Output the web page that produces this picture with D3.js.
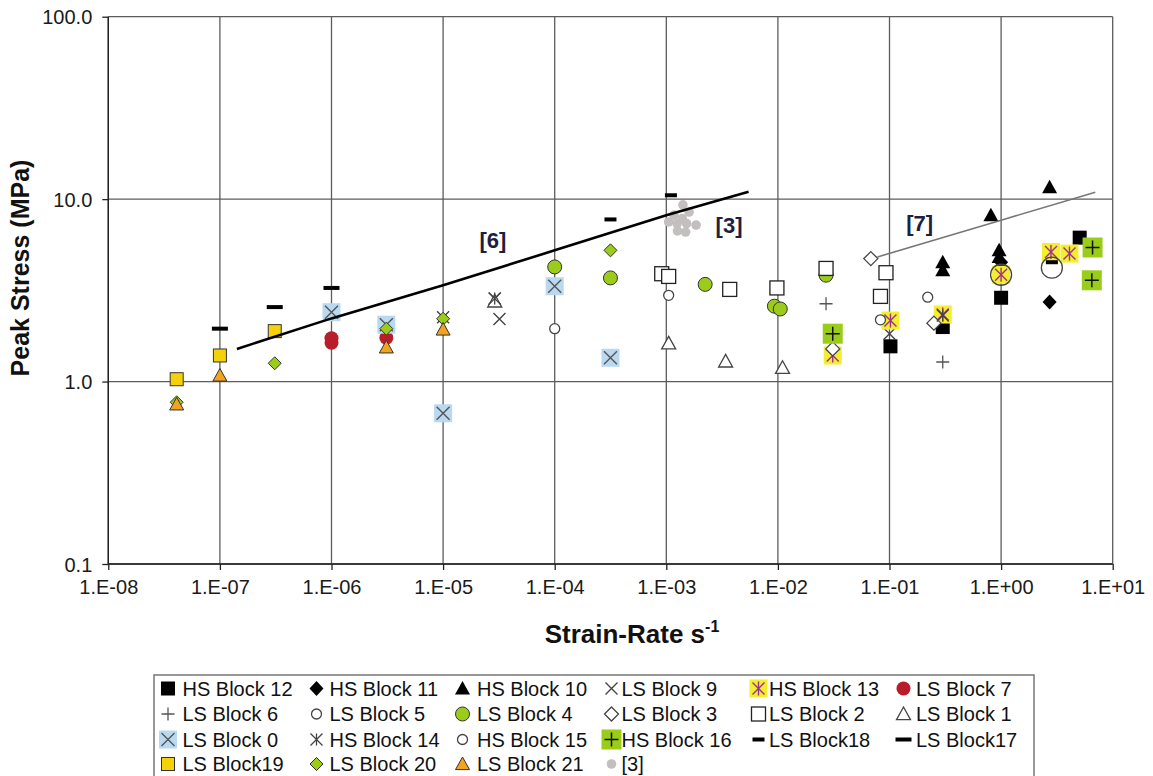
<!DOCTYPE html>
<html>
<head>
<meta charset="utf-8">
<script src="https://cdn.jsdelivr.net/npm/d3@7/dist/d3.min.js"></script>
<style>
  body { margin: 0; background: #fff; }
  svg { font-family: Arial, "Liberation Sans", sans-serif; }
</style>
</head>
<body>
<svg id="chart" width="1153" height="776"></svg>
<script>
// axis ticks
const xTicks = [1e-8, 1e-7, 1e-6, 1e-5, 1e-4, 1e-3, 1e-2, 1e-1, 1e0, 1e1];
const xTickLabels = ['1.E-08', '1.E-07', '1.E-06', '1.E-05', '1.E-04', '1.E-03', '1.E-02', '1.E-01', '1.E+00', '1.E+01'];
const yTicks = [0.1, 1, 10, 100];
const yTickLabels = ['0.1', '1.0', '10.0', '100.0'];

// series values: [strain rate (1/s), peak stress (MPa)]
const hsBlock12 = [[0.102, 1.56], [0.3, 1.99], [1.0, 2.88], [5.06, 6.15]];
const hsBlock11 = [[1.0, 4.51], [2.72, 2.73]];
const hsBlock10 = [[0.3, 4.51], [0.3, 4.07], [0.81, 8.15], [0.96, 5.24], [0.96, 4.82], [2.72, 11.6]];
const lsBlock9 = [[1e-5, 2.25], [3.2e-5, 2.2], [2.9e-5, 2.85], [0.1, 1.83]];
const hsBlock13 = [[3.1e-2, 1.39], [0.102, 2.16], [0.3, 2.33], [1.0, 3.85], [2.8, 5.13], [4.1, 5.03]];
const lsBlock7 = [[1e-6, 1.63], [1e-6, 1.73], [3.1e-6, 1.74]];
const lsBlock6 = [[2.7e-2, 2.67], [0.3, 1.28]];
const lsBlock5 = [[1e-4, 1.95], [1.05e-3, 2.97], [8.3e-2, 2.18], [0.22, 2.9]];
const lsBlock4 = [[1e-4, 4.25], [3.16e-4, 3.7], [2.23e-3, 3.41], [9.3e-3, 2.59], [1.05e-2, 2.5], [2.7e-2, 3.83]];
const lsBlock3 = [[3.1e-2, 1.51], [6.8e-2, 4.72], [0.25, 2.09]];
const lsBlock2 = [[9.1e-4, 3.9], [1.05e-3, 3.77], [3.7e-3, 3.2], [9.8e-3, 3.26], [2.7e-2, 4.17], [8.3e-2, 2.93], [9.3e-2, 3.95]];
const lsBlock1 = [[2.9e-5, 2.75], [1.05e-3, 1.62], [3.4e-3, 1.29], [1.1e-2, 1.19]];
const lsBlock0 = [[1e-6, 2.4], [3.1e-6, 2.05], [1e-5, 0.67], [1e-4, 3.33], [3.16e-4, 1.35]];
const hsBlock14 = [[2.9e-5, 2.85], [0.3, 2.3]];
const hsBlock15 = [[1.0, 3.85], [2.85, 4.21]];
const hsBlock16 = [[3.1e-2, 1.83], [6.6, 5.43], [6.5, 3.59]];
const lsBlock18 = [[3.16e-4, 7.74], [1.1e-3, 10.5], [2.85, 4.51]];
const lsBlock17 = [[1e-7, 1.95], [3.1e-7, 2.56], [1e-6, 3.26]];
const lsBlock19 = [[4.1e-8, 1.03], [1e-7, 1.39], [3.1e-7, 1.89]];
const lsBlock20 = [[4.1e-8, 0.77], [3.1e-7, 1.26], [3.1e-6, 1.95], [1e-5, 2.21], [3.16e-4, 5.24]];
const lsBlock21 = [[4.1e-8, 0.75], [1e-7, 1.08], [3.1e-6, 1.54], [1e-5, 1.93]];
const ref3 = [[1.41e-3, 9.3], [1.6e-3, 8.5], [1.17e-3, 8.17], [1.39e-3, 7.83], [1.05e-3, 7.5],
  [1.25e-3, 7.35], [1.52e-3, 7.35], [1.85e-3, 7.2], [1.26e-3, 6.7], [1.49e-3, 6.6]];

// reference trend lines
const ref6Line = [[1.42e-7, 1.51], [1e-6, 2.22], [1e-5, 3.37], [1e-4, 5.24], [1e-3, 8.17], [5.46e-3, 10.99]];
const ref7Line = [[7.8e-2, 4.82], [1.0, 7.67], [6.98, 10.9]];

// series in legend / drawing order
const series = [
  {name: 'HS Block 12', shape: 'sqBlack', data: hsBlock12},
  {name: 'HS Block 11', shape: 'diaBlack', data: hsBlock11},
  {name: 'HS Block 10', shape: 'triBlack', data: hsBlock10},
  {name: 'LS Block 9', shape: 'x', data: lsBlock9},
  {name: 'HS Block 13', shape: 'asterYellow', data: hsBlock13},
  {name: 'LS Block 7', shape: 'dotRed', data: lsBlock7},
  {name: 'LS Block 6', shape: 'plus', data: lsBlock6},
  {name: 'LS Block 5', shape: 'circSmall', data: lsBlock5},
  {name: 'LS Block 4', shape: 'circGreen', data: lsBlock4},
  {name: 'LS Block 3', shape: 'diaOpen', data: lsBlock3},
  {name: 'LS Block 2', shape: 'sqOpen', data: lsBlock2},
  {name: 'LS Block 1', shape: 'triOpen', data: lsBlock1},
  {name: 'LS Block 0', shape: 'xBlue', data: lsBlock0},
  {name: 'HS Block 14', shape: 'asterGray', data: hsBlock14},
  {name: 'HS Block 15', shape: 'circLarge', data: hsBlock15},
  {name: 'HS Block 16', shape: 'plusGreen', data: hsBlock16},
  {name: 'LS Block18', shape: 'dashShort', data: lsBlock18},
  {name: 'LS Block17', shape: 'dashLong', data: lsBlock17},
  {name: 'LS Block19', shape: 'sqYellow', data: lsBlock19},
  {name: 'LS Block 20', shape: 'diaGreen', data: lsBlock20},
  {name: 'LS Block 21', shape: 'triOrange', data: lsBlock21},
  {name: '[3]', shape: 'dotGray', data: ref3}
];

const svg = d3.select('#chart');
const plotLeft = 108.3, plotRight = 1112.7, plotTop = 16.7, plotBottom = 564;

const x = d3.scaleLog().domain([1e-8, 1e1]).range([plotLeft, plotRight]);
const y = d3.scaleLog().domain([0.1, 100]).range([plotBottom, plotTop]);

// grid
const grid = svg.append('g').attr('stroke', '#5c5c5c').attr('stroke-width', 1.3);
grid.selectAll('.gx').data(xTicks).enter().append('line')
  .attr('x1', d => x(d)).attr('x2', d => x(d)).attr('y1', plotTop).attr('y2', plotBottom);
grid.selectAll('.gy').data(yTicks).enter().append('line')
  .attr('y1', d => y(d)).attr('y2', d => y(d)).attr('x1', plotLeft).attr('x2', plotRight);

// axes
const xAxis = d3.axisBottom(x).tickValues(xTicks).tickSize(6).tickPadding(10)
  .tickFormat((d, i) => xTickLabels[i]);
const gx = svg.append('g').attr('transform', `translate(0,${plotBottom})`).call(xAxis);
const yAxis = d3.axisLeft(y).tickValues(yTicks).tickSize(6).tickPadding(10)
  .tickFormat((d, i) => yTickLabels[i]);
const gy = svg.append('g').attr('transform', `translate(${plotLeft},0)`).call(yAxis);
[gx, gy].forEach(g => {
  g.select('.domain').attr('stroke', '#222').attr('stroke-width', 1.4);
  g.selectAll('.tick line').attr('stroke', '#222').attr('stroke-width', 1.3);
  g.selectAll('.tick text').attr('font-size', 20).attr('fill', '#1a1a1a')
    .attr('font-family', 'Arial, "Liberation Sans", sans-serif');
});
gx.select('.domain').attr('d', `M${plotLeft},0H${plotRight}`);
gy.select('.domain').attr('d', `M0,${plotBottom}V${plotTop}`);
gy.selectAll('.tick text').attr('x', -16).attr('dy', '0.35em');

// axis titles
svg.append('text')
  .attr('transform', 'translate(29,268) rotate(-90)')
  .attr('text-anchor', 'middle').attr('font-weight', 'bold').attr('font-size', 25)
  .attr('fill', '#111').text('Peak Stress (MPa)');
const xt = svg.append('text').attr('x', 632).attr('y', 643)
  .attr('text-anchor', 'middle').attr('font-weight', 'bold').attr('font-size', 26).attr('fill', '#111');
xt.append('tspan').text('Strain-Rate s');
xt.append('tspan').attr('font-size', 16).attr('dy', -11).text('-1');

// marker painter
function diamond(r, ry) { return `M0,${-ry}L${r},0L0,${ry}L${-r},0Z`; }
function triangle(r) { return `M0,${-r}L${r},${r * 0.8}L${-r},${r * 0.8}Z`; }
function cross(g, r, color, w) {
  g.append('path').attr('d', `M${-r},${-r}L${r},${r}M${-r},${r}L${r},${-r}`)
    .attr('stroke', color).attr('stroke-width', w).attr('fill', 'none');
}
function drawMarker(g, shape, legend) {
  switch (shape) {
    case 'sqBlack':
      g.append('rect').attr('x', -7).attr('y', -7).attr('width', 14).attr('height', 14).attr('fill', '#000');
      break;
    case 'diaBlack':
      g.append('path').attr('d', diamond(7, 7.5)).attr('fill', '#000');
      break;
    case 'triBlack':
      g.append('path').attr('d', triangle(7.5)).attr('fill', '#000');
      break;
    case 'x':
      cross(g, 6, '#444', 1.4);
      break;
    case 'asterYellow':
      g.append('rect').attr('x', -9).attr('y', -9).attr('width', 18).attr('height', 18).attr('fill', '#f3ef2c');
      cross(g, 6, '#a0308e', 1.4);
      g.append('path').attr('d', 'M0,-7V7').attr('stroke', '#a0308e').attr('stroke-width', 1.4);
      break;
    case 'dotRed':
      g.append('circle').attr('r', 7).attr('fill', '#b81d2b');
      break;
    case 'plus':
      g.append('path').attr('d', 'M-6.5,0H6.5M0,-6.5V6.5').attr('stroke', '#555').attr('stroke-width', 1.3);
      break;
    case 'circSmall':
      g.append('circle').attr('r', 5).attr('fill', '#fff').attr('stroke', '#444').attr('stroke-width', 1.3);
      break;
    case 'circGreen':
      g.append('circle').attr('r', 7).attr('fill', '#9bcc1b').attr('stroke', '#333').attr('stroke-width', 1);
      break;
    case 'diaOpen':
      g.append('path').attr('d', diamond(7, 7)).attr('fill', '#fff').attr('stroke', '#444').attr('stroke-width', 1.3);
      break;
    case 'sqOpen':
      g.append('rect').attr('x', -7).attr('y', -7).attr('width', 14).attr('height', 14)
        .attr('fill', '#fff').attr('stroke', '#222').attr('stroke-width', 1.3);
      break;
    case 'triOpen':
      g.append('path').attr('d', triangle(7)).attr('fill', '#fff').attr('stroke', '#444').attr('stroke-width', 1.3);
      break;
    case 'xBlue':
      g.append('rect').attr('x', -9).attr('y', -9).attr('width', 18).attr('height', 18).attr('fill', '#b9d9f1');
      cross(g, 6.5, '#555', 1.4);
      break;
    case 'asterGray':
      cross(g, 6, '#444', 1.3);
      g.append('path').attr('d', 'M0,-6V6').attr('stroke', '#444').attr('stroke-width', 1.3);
      break;
    case 'circLarge':
      g.append('circle').attr('r', legend ? 5 : 10.5).attr('fill', 'none').attr('stroke', '#444').attr('stroke-width', 1.3);
      break;
    case 'plusGreen':
      g.append('rect').attr('x', -10).attr('y', -10).attr('width', 20).attr('height', 20).attr('fill', '#9acd1a');
      g.append('path').attr('d', 'M-7,0H7M0,-7V7').attr('stroke', '#111').attr('stroke-width', 1.5);
      break;
    case 'dashShort':
      g.append('rect').attr('x', -6).attr('y', -2).attr('width', 12).attr('height', 4).attr('fill', '#000');
      break;
    case 'dashLong':
      g.append('rect').attr('x', -8).attr('y', -2).attr('width', 16).attr('height', 4).attr('fill', '#000');
      break;
    case 'sqYellow':
      g.append('rect').attr('x', -6.5).attr('y', -6.5).attr('width', 13).attr('height', 13)
        .attr('fill', '#f5d10a').attr('stroke', '#333').attr('stroke-width', 1);
      break;
    case 'diaGreen':
      g.append('path').attr('d', diamond(6.5, 6.5)).attr('fill', '#9acd1a').attr('stroke', '#333').attr('stroke-width', 1);
      break;
    case 'triOrange':
      g.append('path').attr('d', triangle(7)).attr('fill', '#f2a31f').attr('stroke', '#333').attr('stroke-width', 1);
      break;
    case 'dotGray':
      g.append('circle').attr('r', 4.8).attr('fill', '#c3bfbf');
      break;
  }
}

// points
series.forEach(s => {
  const pts = svg.append('g').attr('class', 'series')
    .selectAll('g').data(s.data).enter().append('g')
    .attr('transform', d => `translate(${x(d[0])},${y(d[1])})`);
  pts.each(function() { drawMarker(d3.select(this), s.shape, false); });
});

// trend lines
const line = d3.line().x(d => x(d[0])).y(d => y(d[1]));
svg.append('path').datum(ref6Line).attr('d', line)
  .attr('fill', 'none').attr('stroke', '#000').attr('stroke-width', 2.6);
svg.append('path').datum(ref7Line).attr('d', line)
  .attr('fill', 'none').attr('stroke', '#777').attr('stroke-width', 1.6);

// reference labels
const refLabels = [{t: '[6]', x: 2.8e-5, y: 5.97}, {t: '[3]', x: 3.65e-3, y: 7.23}, {t: '[7]', x: 0.186, y: 7.41}];
svg.selectAll('.reflab').data(refLabels).enter().append('text')
  .attr('x', d => x(d.x)).attr('y', d => y(d.y)).attr('dy', '0.35em')
  .attr('text-anchor', 'middle').attr('font-weight', 'bold').attr('font-size', 22)
  .attr('fill', '#1c2040').text(d => d.t);

// legend
const legend = svg.append('g');
legend.append('rect').attr('x', 154).attr('y', 675).attr('width', 880).attr('height', 120)
  .attr('fill', '#fff').attr('stroke', '#777').attr('stroke-width', 1.5);
const colMarkerX = [168, 316.5, 462.5, 611.5, 758.5, 903.5];
const colTextX = [182.5, 329.5, 477, 621.5, 769, 916];
const rowY = [688.5, 714, 739.5, 764];
series.forEach((s, i) => {
  const c = i % 6, r = Math.floor(i / 6);
  const g = legend.append('g').attr('transform', `translate(${colMarkerX[c]},${rowY[r]})`);
  drawMarker(g, s.shape, true);
  legend.append('text').attr('x', colTextX[c]).attr('y', rowY[r]).attr('dy', '0.36em')
    .attr('font-size', 20).attr('fill', '#111').text(s.name);
});
</script>
</body>
</html>
